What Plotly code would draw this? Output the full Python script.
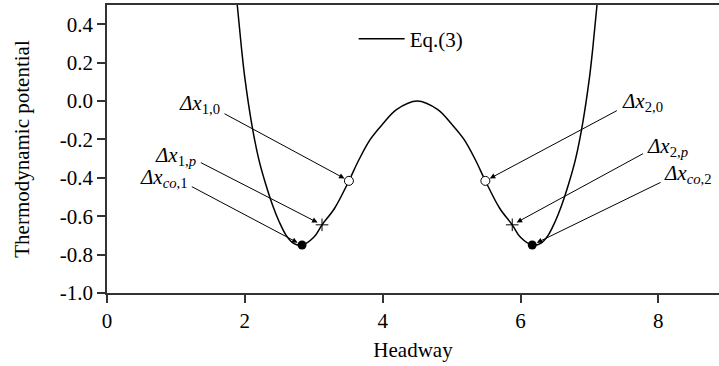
import plotly.graph_objects as go

# ---- data ----
curve_x = [1.80, 1.89, 1.95, 2.00, 2.10, 2.20, 2.30, 2.40, 2.50, 2.60, 2.70, 2.83, 3.00, 3.12,
           3.30, 3.51, 3.65, 3.82, 4.00, 4.20, 4.50,
           4.80, 5.00, 5.18, 5.35, 5.49, 5.70, 5.88, 6.00, 6.17, 6.30, 6.40, 6.50, 6.60, 6.70,
           6.80, 6.90, 7.00, 7.05, 7.11, 7.20]
curve_y = [0.85, 0.50, 0.28, 0.12, -0.12, -0.30, -0.43, -0.54, -0.63, -0.70, -0.74, -0.75, -0.71, -0.645,
           -0.56, -0.416, -0.31, -0.20, -0.12, -0.045, 0.0,
           -0.045, -0.12, -0.20, -0.31, -0.416, -0.56, -0.645, -0.71, -0.75, -0.74, -0.70, -0.63, -0.54, -0.43,
           -0.30, -0.12, 0.12, 0.28, 0.50, 0.85]

open_x = [3.51, 5.49]
open_y = [-0.416, -0.416]
plus_x = [3.12, 5.88]
plus_y = [-0.645, -0.645]
dot_x = [2.83, 6.17]
dot_y = [-0.75, -0.75]

labels = ["<i>Δx</i><sub>1,0</sub>", "<i>Δx</i><sub>1,<i>p</i></sub>", "<i>Δx</i><sub><i>co</i>,1</sub>",
          "<i>Δx</i><sub>2,0</sub>", "<i>Δx</i><sub>2,<i>p</i></sub>", "<i>Δx</i><sub><i>co</i>,2</sub>"]
tip_x = [open_x[0], plus_x[0], dot_x[0], open_x[1], plus_x[1], dot_x[1]]
tip_y = [open_y[0], plus_y[0], dot_y[0], open_y[1], plus_y[1], dot_y[1]]
tail_x = [1.683, 1.34, 1.209, 7.42, 7.80, 8.055]
tail_y = [-0.062, -0.317, -0.442, -0.046, -0.27, -0.42]
label_x = [1.675, 1.325, 1.209, 7.45, 7.81, 8.06]
label_y = [-0.015, -0.285, -0.40, -0.005, -0.24, -0.38]
label_anchor = ["right", "right", "right", "left", "left", "left"]

x_ticks = [0, 2, 4, 6, 8]
y_ticks = [-1.0, -0.8, -0.6, -0.4, -0.2, 0.0, 0.2, 0.4]
y_ticktext = ["-1.0", "-0.8", "-0.6", "-0.4", "-0.2", "0.0", "0.2", "0.4"]

FONT = "Liberation Serif"

fig = go.Figure()
fig.add_trace(go.Scatter(x=curve_x, y=curve_y, mode="lines", name="Eq.(3)",
                         line=dict(color="black", width=1.5, shape="spline", smoothing=1.0)))
fig.add_trace(go.Scatter(x=open_x, y=open_y, mode="markers", showlegend=False, cliponaxis=False,
                         marker=dict(symbol="circle", size=9, color="white",
                                     line=dict(color="black", width=1))))
fig.add_trace(go.Scatter(x=plus_x, y=plus_y, mode="markers", showlegend=False, cliponaxis=False,
                         marker=dict(symbol="cross-thin-open", size=9, color="black",
                                     line=dict(color="black", width=1))))
fig.add_trace(go.Scatter(x=dot_x, y=dot_y, mode="markers", showlegend=False, cliponaxis=False,
                         marker=dict(symbol="circle", size=9, color="black")))

annotations = []
for i in range(len(labels)):
    annotations.append(dict(x=tip_x[i], y=tip_y[i], ax=tail_x[i], ay=tail_y[i],
                            xref="x", yref="y", axref="x", ayref="y", text="",
                            showarrow=True, arrowhead=2, arrowsize=1.1, arrowwidth=1,
                            arrowcolor="black", standoff=5))
    annotations.append(dict(x=label_x[i], y=label_y[i], xref="x", yref="y", text=labels[i],
                            showarrow=False, xanchor=label_anchor[i], yanchor="middle",
                            font=dict(family=FONT, size=21, color="black")))

fig.update_layout(
    width=719, height=366,
    margin=dict(l=107, r=0, t=5, b=73),
    paper_bgcolor="white", plot_bgcolor="white",
    font=dict(family=FONT, size=21, color="black"),
    showlegend=True,
    legend=dict(x=0.403, y=0.882, xanchor="left", yanchor="middle", itemwidth=46,
                bgcolor="rgba(0,0,0,0)", font=dict(family=FONT, size=21, color="black")),
    annotations=annotations,
)
fig.update_xaxes(range=[0, 8.88], tickvals=x_ticks, ticks="outside", ticklen=8, tickwidth=1.5,
                 tickcolor="#333", showline=True, linecolor="#333", linewidth=1.5, mirror=True,
                 showgrid=False, zeroline=False, tickfont=dict(family=FONT, size=21),
                 title=dict(text="Headway", font=dict(family=FONT, size=21), standoff=10))
fig.update_yaxes(range=[-1.0, 0.5], tickvals=y_ticks, ticktext=y_ticktext, ticks="outside",
                 ticklen=8, tickwidth=1.5, tickcolor="#333", showline=True, linecolor="#333",
                 linewidth=1.5, showgrid=False, zeroline=False, tickfont=dict(family=FONT, size=21),
                 title=dict(text="Thermodynamic potential", font=dict(family=FONT, size=21), standoff=24))

fig.write_html("out.html")
